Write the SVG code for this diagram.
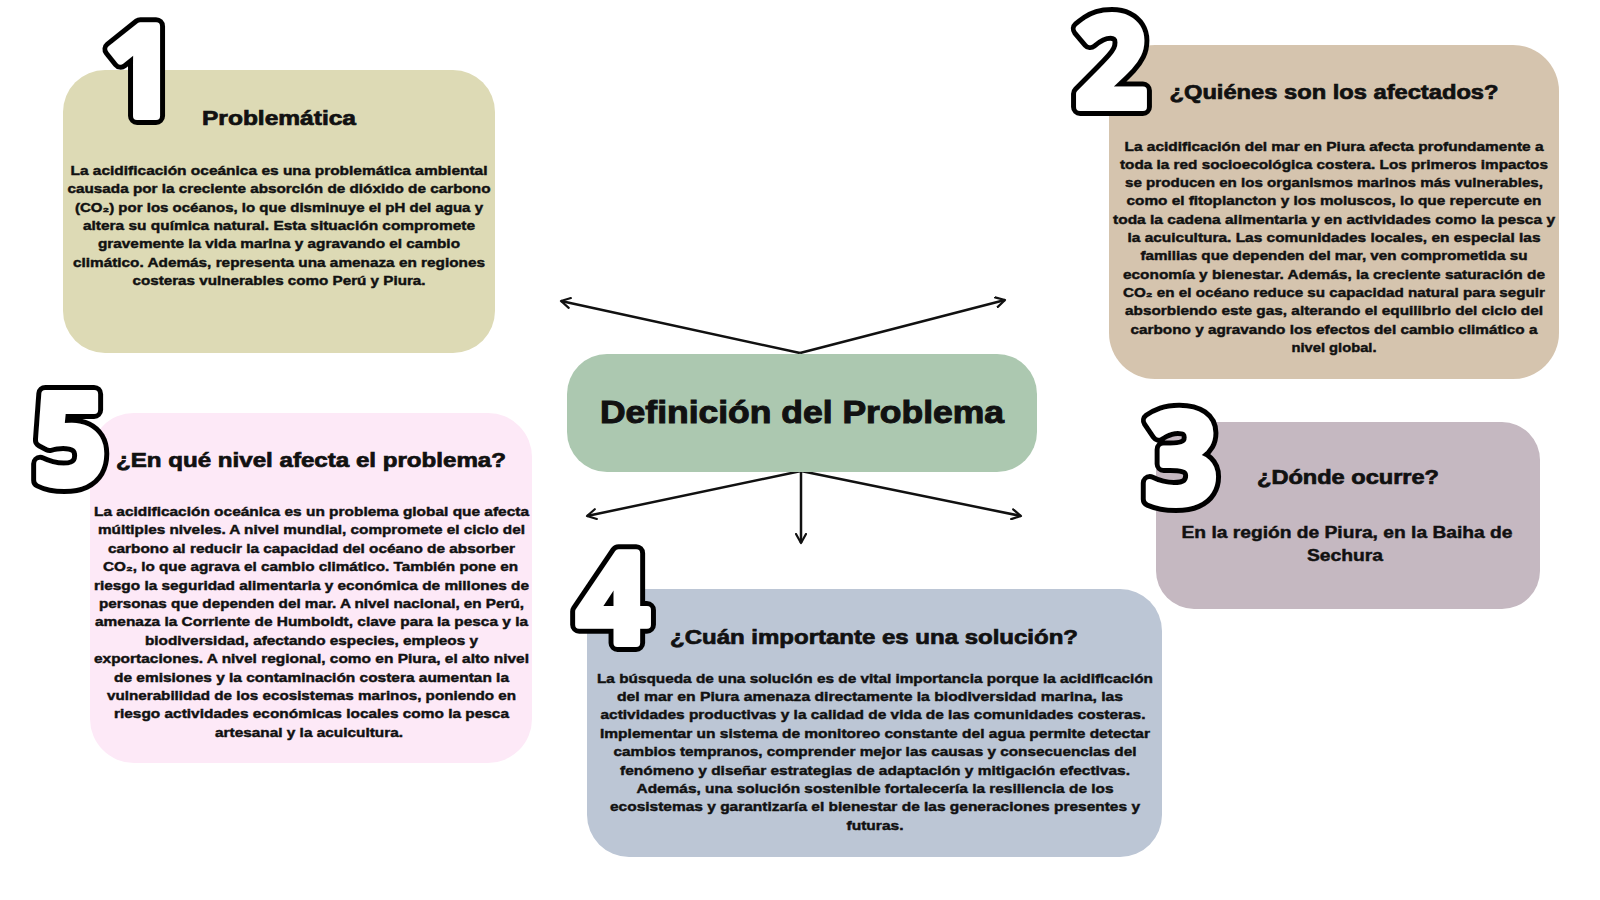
<svg xmlns="http://www.w3.org/2000/svg" width="1600" height="900" viewBox="0 0 1600 900">
<defs>
<style>
.bg{fill:#ffffff}
.t{font-family:"Liberation Sans",Arial,sans-serif;font-weight:bold;fill:#111;text-anchor:middle;stroke:#111;stroke-width:0.45}
.title{font-size:20px;stroke-width:0.7}
.body{font-size:13.5px}
.big{font-size:31px;stroke-width:1}
.num{font-family:"Open Sans","DejaVu Sans",sans-serif;font-weight:bold;font-size:126px;text-anchor:middle;stroke-linejoin:round}
.numo{fill:#000;stroke:#000;stroke-width:18}
.numi{fill:#ffffff;stroke:#ffffff;stroke-width:8}
.conn{stroke:#111;stroke-width:2.5;fill:none;marker-end:url(#arr)}
</style>
<marker id="arr" viewBox="0 0 12 12" refX="10" refY="6" markerWidth="12" markerHeight="12" markerUnits="userSpaceOnUse" orient="auto">
<path d="M1,1 L10,6 L1,11" fill="none" stroke="#111" stroke-width="2.2" stroke-linecap="round" stroke-linejoin="round"/>
</marker>
</defs>
<rect class="bg" x="0" y="0" width="1600" height="900"/>

<g id="connectors">
<line class="conn" x1="800" y1="353" x2="561" y2="301"/>
<line class="conn" x1="800" y1="353" x2="1005" y2="300"/>
<line class="conn" x1="801" y1="471" x2="587" y2="516"/>
<line class="conn" x1="801" y1="471" x2="1021" y2="516"/>
<line class="conn" x1="801" y1="471" x2="801" y2="543"/>
</g>

<g id="center">
<rect x="567" y="354" width="470" height="118" rx="40" fill="#acc8b0"/>
<text class="t big" x="802" y="423" textLength="404" lengthAdjust="spacingAndGlyphs">Definición del Problema</text>
</g>

<g id="node1">
<rect x="63" y="70" width="432" height="283" rx="42" fill="#dddab5"/>
<text class="num numo" x="140" y="116">1</text>
<text class="num numi" x="140" y="116">1</text>
<text class="t title" x="279" y="125" textLength="154" lengthAdjust="spacingAndGlyphs">Problemática</text>
<text class="t body" x="279" y="175" textLength="417" lengthAdjust="spacingAndGlyphs">La acidificación oceánica es una problemática ambiental</text>
<text class="t body" x="279" y="193.3" textLength="423" lengthAdjust="spacingAndGlyphs">causada por la creciente absorción de dióxido de carbono</text>
<text class="t body" x="279" y="211.6" textLength="408" lengthAdjust="spacingAndGlyphs">(CO₂) por los océanos, lo que disminuye el pH del agua y</text>
<text class="t body" x="279" y="229.9" textLength="392" lengthAdjust="spacingAndGlyphs">altera su química natural. Esta situación compromete</text>
<text class="t body" x="279" y="248.2" textLength="362" lengthAdjust="spacingAndGlyphs">gravemente la vida marina y agravando el cambio</text>
<text class="t body" x="279" y="266.5" textLength="412" lengthAdjust="spacingAndGlyphs">climático. Además, representa una amenaza en regiones</text>
<text class="t body" x="279" y="284.8" textLength="293" lengthAdjust="spacingAndGlyphs">costeras vulnerables como Perú y Piura.</text>
</g>

<g id="node2">
<rect x="1109" y="45" width="450" height="334" rx="46" fill="#d5c4ae"/>
<text class="num numo" x="1111" y="107">2</text>
<text class="num numi" x="1111" y="107">2</text>
<text class="t title" x="1334" y="99" textLength="329" lengthAdjust="spacingAndGlyphs">¿Quiénes son los afectados?</text>
<text class="t body" x="1334" y="150.5" textLength="419" lengthAdjust="spacingAndGlyphs">La acidificación del mar en Piura afecta profundamente a</text>
<text class="t body" x="1334" y="168.8" textLength="428" lengthAdjust="spacingAndGlyphs">toda la red socioecológica costera. Los primeros impactos</text>
<text class="t body" x="1334" y="187.1" textLength="418" lengthAdjust="spacingAndGlyphs">se producen en los organismos marinos más vulnerables,</text>
<text class="t body" x="1334" y="205.4" textLength="415" lengthAdjust="spacingAndGlyphs">como el fitoplancton y los moluscos, lo que repercute en</text>
<text class="t body" x="1334" y="223.7" textLength="442" lengthAdjust="spacingAndGlyphs">toda la cadena alimentaria y en actividades como la pesca y</text>
<text class="t body" x="1334" y="242" textLength="413" lengthAdjust="spacingAndGlyphs">la acuicultura. Las comunidades locales, en especial las</text>
<text class="t body" x="1334" y="260.3" textLength="387" lengthAdjust="spacingAndGlyphs">familias que dependen del mar, ven comprometida su</text>
<text class="t body" x="1334" y="278.6" textLength="422" lengthAdjust="spacingAndGlyphs">economía y bienestar. Además, la creciente saturación de</text>
<text class="t body" x="1334" y="296.9" textLength="422" lengthAdjust="spacingAndGlyphs">CO₂ en el océano reduce su capacidad natural para seguir</text>
<text class="t body" x="1334" y="315.2" textLength="418" lengthAdjust="spacingAndGlyphs">absorbiendo este gas, alterando el equilibrio del ciclo del</text>
<text class="t body" x="1334" y="333.5" textLength="407" lengthAdjust="spacingAndGlyphs">carbono y agravando los efectos del cambio climático a</text>
<text class="t body" x="1334" y="351.8" textLength="85" lengthAdjust="spacingAndGlyphs">nivel global.</text>
</g>

<g id="node3">
<rect x="1156" y="422" width="384" height="187" rx="38" fill="#c5b8c1"/>
<text class="num numo" x="1181" y="503">3</text>
<text class="num numi" x="1181" y="503">3</text>
<text class="t title" x="1348" y="484" textLength="182" lengthAdjust="spacingAndGlyphs">¿Dónde ocurre?</text>
<text class="t body" style="font-size:16px" x="1347" y="538" textLength="331" lengthAdjust="spacingAndGlyphs">En la región de Piura, en la Baiha de</text>
<text class="t body" style="font-size:16px" x="1345" y="561" textLength="76" lengthAdjust="spacingAndGlyphs">Sechura</text>
</g>

<g id="node4">
<rect x="587" y="589" width="575" height="268" rx="42" fill="#bcc6d5"/>
<text class="num numo" x="613" y="643">4</text>
<text class="num numi" x="613" y="643">4</text>
<text class="t title" x="874" y="644" textLength="408" lengthAdjust="spacingAndGlyphs">¿Cuán importante es una solución?</text>
<text class="t body" x="875" y="682.5" textLength="556" lengthAdjust="spacingAndGlyphs">La búsqueda de una solución es de vital importancia porque la acidificación</text>
<text class="t body" x="870" y="700.9" textLength="506" lengthAdjust="spacingAndGlyphs">del mar en Piura amenaza directamente la biodiversidad marina, las</text>
<text class="t body" x="873" y="719.3" textLength="545" lengthAdjust="spacingAndGlyphs">actividades productivas y la calidad de vida de las comunidades costeras.</text>
<text class="t body" x="875" y="737.7" textLength="550" lengthAdjust="spacingAndGlyphs">Implementar un sistema de monitoreo constante del agua permite detectar</text>
<text class="t body" x="875" y="756.1" textLength="523" lengthAdjust="spacingAndGlyphs">cambios tempranos, comprender mejor las causas y consecuencias del</text>
<text class="t body" x="875" y="774.5" textLength="510" lengthAdjust="spacingAndGlyphs">fenómeno y diseñar estrategias de adaptación y mitigación efectivas.</text>
<text class="t body" x="875" y="792.9" textLength="477" lengthAdjust="spacingAndGlyphs">Además, una solución sostenible fortalecería la resiliencia de los</text>
<text class="t body" x="875" y="811.3" textLength="530" lengthAdjust="spacingAndGlyphs">ecosistemas y garantizaría el bienestar de las generaciones presentes y</text>
<text class="t body" x="875" y="829.7" textLength="57" lengthAdjust="spacingAndGlyphs">futuras.</text>
</g>

<g id="node5">
<rect x="90" y="413" width="442" height="350" rx="44" fill="#fde9f7"/>
<text class="num numo" x="70" y="484">5</text>
<text class="num numi" x="70" y="484">5</text>
<text class="t title" x="311" y="467" textLength="390" lengthAdjust="spacingAndGlyphs">¿En qué nivel afecta el problema?</text>
<text class="t body" x="311.5" y="516" textLength="435" lengthAdjust="spacingAndGlyphs">La acidificación oceánica es un problema global que afecta</text>
<text class="t body" x="311.5" y="534.4" textLength="427" lengthAdjust="spacingAndGlyphs">múltiples niveles. A nivel mundial, compromete el ciclo del</text>
<text class="t body" x="311.5" y="552.8" textLength="407" lengthAdjust="spacingAndGlyphs">carbono al reducir la capacidad del océano de absorber</text>
<text class="t body" x="310.5" y="571.2" textLength="415" lengthAdjust="spacingAndGlyphs">CO₂, lo que agrava el cambio climático. También pone en</text>
<text class="t body" x="311.5" y="589.6" textLength="435" lengthAdjust="spacingAndGlyphs">riesgo la seguridad alimentaria y económica de millones de</text>
<text class="t body" x="311.5" y="608" textLength="425" lengthAdjust="spacingAndGlyphs">personas que dependen del mar. A nivel nacional, en Perú,</text>
<text class="t body" x="311.5" y="626.4" textLength="433" lengthAdjust="spacingAndGlyphs">amenaza la Corriente de Humboldt, clave para la pesca y la</text>
<text class="t body" x="311.5" y="644.8" textLength="333" lengthAdjust="spacingAndGlyphs">biodiversidad, afectando especies, empleos y</text>
<text class="t body" x="311.5" y="663.2" textLength="435" lengthAdjust="spacingAndGlyphs">exportaciones. A nivel regional, como en Piura, el alto nivel</text>
<text class="t body" x="311.5" y="681.6" textLength="395" lengthAdjust="spacingAndGlyphs">de emisiones y la contaminación costera aumentan la</text>
<text class="t body" x="311.5" y="700" textLength="409" lengthAdjust="spacingAndGlyphs">vulnerabilidad de los ecosistemas marinos, poniendo en</text>
<text class="t body" x="311.5" y="718.4" textLength="395" lengthAdjust="spacingAndGlyphs">riesgo actividades económicas locales como la pesca</text>
<text class="t body" x="309" y="736.8" textLength="188" lengthAdjust="spacingAndGlyphs">artesanal y la acuicultura.</text>
</g>
</svg>
